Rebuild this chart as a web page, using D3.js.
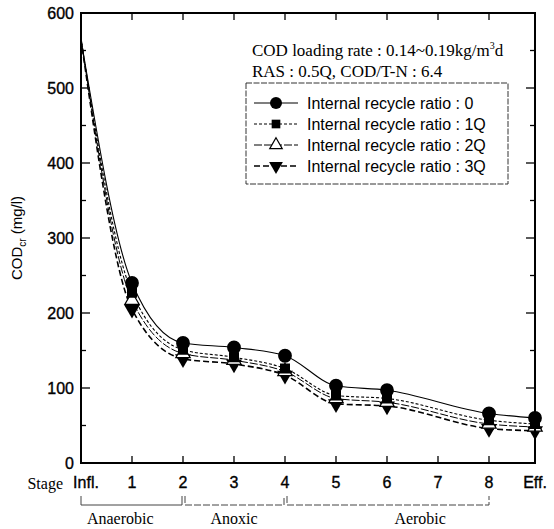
<!DOCTYPE html>
<html>
<head>
<meta charset="utf-8">
<script src="https://cdn.jsdelivr.net/npm/d3@7"></script>
<style>
  html, body { margin: 0; padding: 0; background: #fff; }
  svg { display: block; }
  .sans { font-family: "Liberation Sans", Arial, Helvetica, sans-serif; }
  .serif { font-family: "Liberation Serif", "Times New Roman", serif; }
  .num { stroke: #000; stroke-width: 0.35; }
</style>
</head>
<body>
<svg id="chart" width="554" height="529"></svg>
<script>
// Stage labels along the reactor train (index = stage position)
const stageLabels = ["Infl.", "1", "2", "3", "4", "5", "6", "7", "8", "Eff."];
// Stage positions where COD was sampled (no sample at stage 7)
const sampledStages = [0, 1, 2, 3, 4, 5, 6, 8, 9];

// COD_cr (mg/l) for each internal recycle ratio
const ratio0  = [565, 240, 160, 154, 143, 103, 97, 66, 60];
const ratio1Q = [565, 227, 151, 141, 126, 90, 86, 57, 52];
const ratio2Q = [565, 217, 146, 137, 122, 86, 81, 52, 48];
const ratio3Q = [565, 205, 139, 132, 117, 79, 76, 46, 43];

const seriesNames = [
  "Internal recycle ratio : 0",
  "Internal recycle ratio : 1Q",
  "Internal recycle ratio : 2Q",
  "Internal recycle ratio : 3Q"
];

const yTicks = [0, 100, 200, 300, 400, 500, 600];

// Process zones: [from stage, to stage, label, label position]
const zoneNames = ["Anaerobic", "Anoxic", "Aerobic"];
const zoneFrom = [0, 2, 4];
const zoneTo = [2, 4, 8];
const zoneLabelAt = [0.77, 3.0, 6.65];

const svg = d3.select("#chart");

const x = d3.scaleLinear().domain([0, 8, 9]).range([81, 489, 535]);
const y = d3.scaleLinear().domain([0, 600]).range([463, 13]);

const series = [ratio0, ratio1Q, ratio2Q, ratio3Q].map((vals, i) => ({
  name: seriesNames[i],
  points: vals.map((v, j) => ({ s: sampledStages[j], v }))
}));

const styles = [
  { dash: null, width: 1.1, marker: "circle" },
  { dash: "3,2", width: 1.1, marker: "square" },
  { dash: "8,2", width: 1.0, marker: "triangle" },
  { dash: "6,3", width: 1.6, marker: "down" }
];

function markerPath(type, size) {
  const map = {
    circle: d3.symbolCircle,
    square: d3.symbolSquare,
    triangle: d3.symbolTriangle,
    down: d3.symbolTriangle
  };
  return d3.symbol().type(map[type]).size(size)();
}

function drawMarker(g, type, cx, cy, size) {
  const p = g.append("path")
    .attr("d", markerPath(type, size))
    .attr("transform", `translate(${cx},${cy})` + (type === "down" ? " rotate(180)" : ""));
  if (type === "triangle") {
    p.attr("fill", "#fff").attr("stroke", "#000").attr("stroke-width", 1.2);
  } else {
    p.attr("fill", "#000");
  }
  return p;
}

// Series lines (smooth)
const line = d3.line()
  .x(d => x(d.s))
  .y(d => y(d.v))
  .curve(d3.curveMonotoneX);

const linesG = svg.append("g");
series.forEach((s, i) => {
  linesG.append("path")
    .datum(s.points)
    .attr("d", line)
    .attr("fill", "none")
    .attr("stroke", "#000")
    .attr("stroke-width", styles[i].width)
    .attr("stroke-dasharray", styles[i].dash);
});

// Markers (drawn bottom series first so the circles sit on top)
const markG = svg.append("g");
const sizes = { circle: 150, square: 100, triangle: 90, down: 110 };
for (let i = series.length - 1; i >= 0; i--) {
  series[i].points.forEach(p => {
    if (p.s === 0) return;
    drawMarker(markG, styles[i].marker, x(p.s), y(p.v), sizes[styles[i].marker]);
  });
}

// Frame
const frame = svg.append("g");
frame.append("rect")
  .attr("x", x(0)).attr("y", y(600))
  .attr("width", x(9) - x(0)).attr("height", y(0) - y(600))
  .attr("fill", "none").attr("stroke", "#000").attr("stroke-width", 2);

// Y ticks: major every 100, minor every 50, inward on both sides
const yAll = d3.range(0, 601, 50);
yAll.forEach(v => {
  const major = v % 100 === 0;
  if (v === 0 || v === 600) return;
  frame.append("line")
    .attr("x1", x(0)).attr("x2", x(0) + (major ? 9 : 5))
    .attr("y1", y(v)).attr("y2", y(v))
    .attr("stroke", "#000").attr("stroke-width", 1.3);
  frame.append("line")
    .attr("x1", x(9)).attr("x2", x(9) - (major ? 9 : 5))
    .attr("y1", y(v)).attr("y2", y(v))
    .attr("stroke", "#000").attr("stroke-width", 1.3);
});

// X ticks on bottom and top
d3.range(1, 9).forEach(s => {
  frame.append("line")
    .attr("x1", x(s)).attr("x2", x(s))
    .attr("y1", y(0)).attr("y2", y(0) - 7)
    .attr("stroke", "#000").attr("stroke-width", 1.3);
  frame.append("line")
    .attr("x1", x(s)).attr("x2", x(s))
    .attr("y1", y(600)).attr("y2", y(600) + 7)
    .attr("stroke", "#000").attr("stroke-width", 1.3);
});

// Y tick labels
svg.append("g").selectAll("text")
  .data(yTicks).join("text")
  .attr("class", "sans num")
  .attr("x", x(0) - 7)
  .attr("y", d => y(d))
  .attr("dy", "0.36em")
  .attr("text-anchor", "end")
  .attr("font-size", 16)
  .text(d => d);

// Y axis title
const yt = svg.append("text")
  .attr("class", "sans")
  .attr("transform", "translate(22,238) rotate(-90)")
  .attr("text-anchor", "middle")
  .attr("font-size", 15);
yt.append("tspan").text("COD");
yt.append("tspan").attr("font-size", 10).attr("dy", 4).text("cr");
yt.append("tspan").attr("dy", -4).text(" (mg/l)");

// Stage labels
svg.append("g").selectAll("text")
  .data(stageLabels).join("text")
  .attr("class", "sans num")
  .attr("x", (d, i) => x(i) + (i === 0 ? 5 : 0))
  .attr("y", 488)
  .attr("text-anchor", "middle")
  .attr("font-size", 16)
  .text(d => d);

svg.append("text")
  .attr("class", "serif")
  .attr("x", 63).attr("y", 489)
  .attr("text-anchor", "end")
  .attr("font-size", 16)
  .text("Stage");

// Zone brackets
const zoneG = svg.append("g");
const by = 505;
zoneNames.forEach((name, i) => {
  const x1 = x(zoneFrom[i]) + (i === 0 ? 0 : 2);
  const x2 = x(zoneTo[i]) - (i === zoneNames.length - 1 ? 0 : 1);
  zoneG.append("path")
    .attr("d", `M${x1},${by - 9}V${by}H${x2}V${by - 9}`)
    .attr("fill", "none")
    .attr("stroke", "#444")
    .attr("stroke-width", 1)
    .attr("stroke-dasharray", i === 0 ? null : "7,2");
  zoneG.append("text")
    .attr("class", "serif")
    .attr("x", x(zoneLabelAt[i]))
    .attr("y", 524)
    .attr("text-anchor", "middle")
    .attr("font-size", 16)
    .text(name);
});

// Operating condition notes
const note1 = svg.append("text")
  .attr("class", "serif")
  .attr("x", 252).attr("y", 56)
  .attr("font-size", 17);
note1.append("tspan").text("COD loading rate : 0.14~0.19kg/m");
note1.append("tspan").attr("font-size", 10).attr("dy", -7).text("3");
note1.append("tspan").attr("dy", 7).text("d");

svg.append("text")
  .attr("class", "serif")
  .attr("x", 252).attr("y", 77)
  .attr("font-size", 17)
  .text("RAS : 0.5Q, COD/T-N : 6.4");

// Legend
const lg = svg.append("g");
lg.append("rect")
  .attr("x", 246).attr("y", 83)
  .attr("width", 262).attr("height", 101)
  .attr("fill", "#fff")
  .attr("stroke", "#333")
  .attr("stroke-width", 1)
  .attr("stroke-dasharray", "6,1.5");

series.forEach((s, i) => {
  const cy = 103 + i * 21;
  lg.append("line")
    .attr("x1", 254).attr("x2", 298)
    .attr("y1", cy).attr("y2", cy)
    .attr("stroke", "#000")
    .attr("stroke-width", styles[i].width)
    .attr("stroke-dasharray", styles[i].dash === null ? null : styles[i].dash);
  drawMarker(lg, styles[i].marker, 276, cy, sizes[styles[i].marker] * 0.75);
  lg.append("text")
    .attr("class", "sans")
    .attr("x", 307).attr("y", cy)
    .attr("dy", "0.36em")
    .attr("font-size", 16)
    .text(s.name);
});
</script>
</body>
</html>
